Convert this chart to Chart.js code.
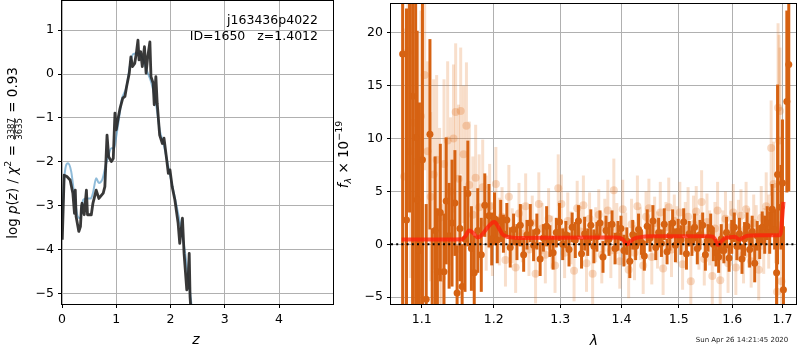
<!DOCTYPE html>
<html>
<head>
<meta charset="utf-8">
<script src="https://cdn.jsdelivr.net/npm/chart.js@4.4.1/dist/chart.umd.min.js"></script>
<style>
body { margin: 0; background: #fff; width: 800px; height: 350px; position: relative; overflow: hidden; }
canvas { position: absolute; top: 0; }
#pz { left: 0; }
#spec { left: 334px; }
</style>
</head>
<body>
<canvas id="pz" width="334" height="350"></canvas>
<canvas id="spec" width="466" height="350"></canvas>
<script>
// ---- left panel: log p(z) ----
const zFull = [0.005, 0.04, 0.09, 0.15, 0.20, 0.23, 0.245, 0.26, 0.31, 0.34,
    0.36, 0.37, 0.41, 0.45, 0.47, 0.54, 0.57, 0.63, 0.68, 0.76,
    0.79, 0.83, 0.86, 0.91, 0.945, 0.976, 1.0, 1.04, 1.07, 1.12,
    1.16, 1.19, 1.24, 1.27, 1.30, 1.34, 1.37, 1.40, 1.42, 1.45,
    1.48, 1.52, 1.55, 1.58, 1.62, 1.64, 1.68, 1.70, 1.73, 1.755,
    1.80, 1.85, 1.88, 1.93, 1.96, 1.99, 2.03, 2.08, 2.14, 2.17,
    2.22, 2.25, 2.30, 2.32, 2.345, 2.36, 2.40, 2.45];
const logpFull = [-3.77, -2.30, -2.33, -2.41, -2.71, -3.17, -2.64, -3.24, -3.58, -3.47,
    -3.0, -2.94, -3.2, -2.64, -3.2, -3.2, -2.94, -2.64, -2.83, -2.71,
    -2.56, -1.39, -1.88, -1.99, -1.92, -0.89, -1.27, -0.97, -0.78, -0.55,
    -0.51, -0.29, 0.02, 0.39, 0.17, 0.24, 0.47, 0.77, 0.32, 0.51,
    0.17, 0.62, 0.02, 0.39, 0.73, -0.06, -0.21, -0.7, -0.06, -0.67,
    -1.39, -1.58, -1.46, -1.95, -2.26, -2.18, -2.56, -2.86, -3.39, -3.85,
    -3.28, -4.08, -4.91, -4.83, -4.08, -5.06, -5.8, -6.5];

const zSmooth = [0.005, 0.05, 0.11, 0.17, 0.23, 0.29, 0.34, 0.39, 0.45, 0.53,
    0.57, 0.63, 0.68, 0.74, 0.80, 0.85, 0.91, 0.96, 1.0, 1.06,
    1.1, 1.19, 1.25, 1.31, 1.40, 1.47, 1.56, 1.65, 1.74, 1.80,
    1.87, 1.96, 2.05, 2.14, 2.2, 2.27, 2.33, 2.37, 2.42, 2.46];
const logpSmooth = [-3.3, -2.26, -2.03, -2.22, -2.79, -3.24, -3.28, -2.86, -2.83, -2.83,
    -2.71, -2.37, -2.48, -2.41, -2.11, -1.88, -1.69, -1.69, -1.42, -0.93,
    -0.59, -0.29, 0.17, 0.45, 0.47, 0.39, 0.09, -0.21, -0.74, -1.27,
    -1.58, -2.11, -2.64, -3.17, -3.55, -4.08, -4.68, -5.06, -5.7, -6.3];

const zTicks = [0, 1, 2, 3, 4];
const logpTicks = [-5, -4, -3, -2, -1, 0, 1];

// ---- right panel: spectrum ----
const darkLam = [1.075, 1.080, 1.084, 1.088, 1.092, 1.094, 1.097, 1.101, 1.106, 1.111,
    1.114, 1.118, 1.121, 1.125, 1.130, 1.133, 1.137, 1.141, 1.145, 1.148,
    1.152, 1.155, 1.159, 1.163, 1.168, 1.172, 1.177, 1.182, 1.187, 1.193,
    1.197, 1.201, 1.205, 1.210,
    1.214, 1.219, 1.224, 1.229, 1.234, 1.239, 1.244, 1.249, 1.254, 1.259,
    1.264, 1.269, 1.274, 1.279, 1.284, 1.289, 1.294, 1.299, 1.304, 1.309,
    1.314, 1.319, 1.324, 1.329, 1.334, 1.339, 1.344, 1.349, 1.354, 1.359,
    1.364, 1.369, 1.374, 1.379, 1.384, 1.389, 1.394, 1.399, 1.404, 1.409,
    1.414, 1.419, 1.424, 1.429, 1.434, 1.439, 1.444, 1.449, 1.454, 1.459,
    1.464, 1.469, 1.474, 1.479, 1.484, 1.489, 1.494, 1.499, 1.504, 1.509,
    1.514, 1.519, 1.524, 1.529, 1.534, 1.539, 1.544, 1.549, 1.554, 1.559,
    1.564, 1.569, 1.574, 1.579, 1.584, 1.589, 1.594, 1.599, 1.604, 1.609,
    1.614, 1.619, 1.624, 1.629, 1.634, 1.639, 1.644, 1.649, 1.654, 1.659,
    1.664, 1.669, 1.674, 1.679, 1.684,
    1.688, 1.690, 1.697, 1.700, 1.702, 1.709, 1.713];
const darkFlux = [18, 2.3, 25, 14.0, 10.1, 4.2, -0.6, 8, -5.2, 10.4,
    -6.5, 1.3, -2.6, 3.0, -2.6, 4.1, 0.8, 2.0, 3.9, -4.6,
    1.5, -4.0, 0.5, 4.8, -0.4, -2.7, 1.3, -1.0, 3.7, 2.7,
    0.5, 2.4, 0.4, 2.2,
    1.0, 2.3, -0.3, 1.4, 0.2, 1.8, -1.0, 0.9, 2.0, -0.1,
    1.2, -1.4, 0.6, 1.7, 0.3, -0.8, 1.1, 2.1, 0.0, 0.9,
    -0.5, 1.6, 0.4, 2.2, -0.9, 1.0, 0.2, 1.8, -0.2, 0.7,
    2.0, -1.2, 1.3, 0.5, 1.9, -0.4, 0.8, 1.5, -0.6, 0.3,
    -1.6, 0.9, -0.2, 1.4, 0.2, -1.1, 1.7, 0.6, 2.2, -0.3,
    1.1, 0.1, 1.9, -0.7, 0.8, 2.0, -0.1, 1.2, 0.4, 2.1,
    -0.9, 1.0, 0.3, 1.6, -0.4, 0.9, 1.8, -1.0, 0.6, 1.5,
    0.0, -0.8, -1.2, 0.5, -0.6, 1.1, -1.3, 0.7, 1.6, -0.2,
    1.0, -1.4, 0.5, 1.7, -0.5, 1.2, -1.8, 0.8, 0.2, 1.6,
    0.9, 2.0, 1.1, 3.3, 1.4,
    -2.7, 6.6, 3.5, 5.8, -4.3, 13.5, 17.0];
const darkErr = [24, 20, 22, 20, 18, 16, 14, 15, 9, 9,
    8, 7, 6, 6.5, 5.5, 6, 5, 6, 5, 4.5,
    5, 4, 5, 5, 4, 3.5, 4, 3.5, 3, 3,
    2.5, 2.5, 2.2, 2,
    1.8, 1.6, 1.9, 1.5, 1.7, 2.0, 1.6, 1.4, 1.8, 1.5,
    1.7, 1.6, 1.3, 1.9, 1.5, 1.6, 1.4, 1.8, 1.5, 1.3,
    1.6, 1.4, 1.7, 1.5, 1.4, 1.6, 1.3, 1.5, 1.6, 1.4,
    1.2, 1.5, 1.4, 1.6, 1.3, 1.5, 1.4, 1.2, 1.5, 1.3,
    1.6, 1.4, 1.3, 1.5, 1.2, 1.4, 1.6, 1.3, 1.5, 1.2,
    1.4, 1.3, 1.5, 1.2, 1.4, 1.3, 1.6, 1.2, 1.4, 1.3,
    1.5, 1.2, 1.4, 1.3, 1.5, 1.4, 1.2, 1.5, 1.3, 1.4,
    1.6, 1.3, 1.5, 1.4, 1.2, 1.5, 1.3, 1.6, 1.4, 1.3,
    1.5, 1.4, 1.6, 1.3, 1.7, 1.5, 1.8, 1.4, 1.6, 1.5,
    1.8, 1.6, 2.0, 2.4, 1.9,
    3.5, 8.5, 4, 6, 6, 8.6, 12];

const lightLam = [1.077, 1.082, 1.085, 1.089, 1.093, 1.096, 1.099, 1.104, 1.108, 1.112,
    1.116, 1.120, 1.124, 1.127, 1.130, 1.135, 1.139, 1.143, 1.146, 1.150,
    1.153, 1.157, 1.161, 1.165, 1.170, 1.174, 1.179, 1.184, 1.189, 1.194,
    1.198, 1.203, 1.208,
    1.212, 1.217, 1.222, 1.227, 1.232, 1.237, 1.242, 1.247, 1.252, 1.257,
    1.262, 1.267, 1.272, 1.277, 1.282, 1.287, 1.292, 1.297, 1.302, 1.307,
    1.312, 1.317, 1.322, 1.327, 1.332, 1.337, 1.342, 1.347, 1.352, 1.357,
    1.362, 1.367, 1.372, 1.377, 1.382, 1.387, 1.392, 1.397, 1.402, 1.407,
    1.412, 1.417, 1.422, 1.427, 1.432, 1.437, 1.442, 1.447, 1.452, 1.457,
    1.462, 1.467, 1.472, 1.477, 1.482, 1.487, 1.492, 1.497, 1.502, 1.507,
    1.512, 1.517, 1.522, 1.527, 1.532, 1.537, 1.542, 1.547, 1.552, 1.557,
    1.562, 1.567, 1.572, 1.577, 1.582, 1.587, 1.592, 1.597, 1.602, 1.607,
    1.612, 1.617, 1.622, 1.627, 1.632, 1.637, 1.642, 1.647, 1.652, 1.657,
    1.662, 1.667, 1.672, 1.677, 1.682, 1.686,
    1.689, 1.691, 1.693, 1.695, 1.698];
const lightFlux = [6.4, 18.2, 8.8, 11.5, 7.8, -4.5, 12.1, 16.0, 8.8, 4.5,
    6.6, 8.0, 2.5, -3.2, 7.6, 9.8, 5.0, 10.0, 12.5, 6.2,
    12.6, 8.5, 11.2, 5.6, 2.8, 6.3, 3.5, 5.4, 2.0, 3.6,
    0.5, 5.7, 1.2,
    2.6, -1.5, 4.5, 0.8, -2.2, 2.9, 1.0, 3.6, -0.5, 2.0,
    -2.8, 3.8, 1.5, -1.0, 2.4, 0.2, -2.0, 5.3, 3.8, -0.8,
    2.2, 0.6, -2.5, 3.4, 1.2, 3.7, -1.8, 2.4, -2.8, 0.9,
    2.8, -1.0, 1.8, 3.2, -0.6, 5.1, 1.5, -1.6, 3.3, 0.5,
    -2.4, 1.9, -0.8, 3.6, 1.0, -2.0, 2.6, 3.4, -1.2, 2.0,
    0.4, 3.0, -2.3, 1.6, 3.5, -0.5, 2.2, 0.9, 3.0, -1.9,
    1.4, 2.6, -3.5, 1.9, 3.1, 0.2, 4.0, -1.4, 2.1, 0.6,
    -3.0, 1.5, 3.2, -3.4, 0.8, 2.4, -1.8, 1.6, 3.0, -2.2,
    1.3, 2.7, -1.0, 3.3, 0.6, -1.6, 2.0, 1.1, -2.4, 2.5,
    0.3, 3.6, 1.2, 9.1, 5.7, 2.0,
    -4.5, 12.9, 9.8, 12.6, -3.5];
const lightErr = [14, 14, 12, 11, 10, 12, 10, 9, 8.5, 8,
    9, 8, 8.5, 7, 8, 7.5, 7, 7, 6.5, 7,
    6, 6.5, 6, 6, 5.5, 5, 5, 4.5, 4.5, 4,
    3.5, 3.5, 3.2,
    2.8, 2.5, 3.0, 2.6, 2.4, 2.9, 2.7, 3.1, 2.5, 2.6,
    2.8, 3.0, 2.4, 2.7, 2.9, 2.5, 2.6, 3.2, 2.8, 2.4,
    2.7, 2.5, 2.9, 2.6, 2.4, 2.8, 2.7, 2.5, 3.0, 2.6,
    2.4, 2.7, 2.5, 2.9, 2.6, 3.0, 2.4, 2.6, 2.8, 2.5,
    2.7, 2.4, 2.6, 2.9, 2.5, 2.7, 2.4, 2.8, 2.6, 2.5,
    2.7, 2.9, 2.5, 2.4, 2.8, 2.6, 2.5, 2.7, 2.9, 2.4,
    2.6, 2.8, 2.5, 2.7, 2.4, 2.6, 3.0, 2.5, 2.7, 2.6,
    2.8, 2.5, 2.7, 2.9, 2.4, 2.6, 2.8, 2.5, 2.7, 2.6,
    2.9, 2.5, 2.7, 2.6, 2.8, 2.5, 2.7, 2.6, 2.9, 3.0,
    3.1, 3.2, 3.5, 4.5, 4.0, 3.8,
    4, 8, 10, 6, 5];

const modelLam = [1.0737, 1.10, 1.13, 1.155, 1.160, 1.1647, 1.170, 1.177, 1.183, 1.190,
    1.197, 1.201, 1.206, 1.212, 1.218, 1.225, 1.24, 1.30, 1.36, 1.39,
    1.400, 1.405, 1.4096, 1.414, 1.420, 1.430, 1.45, 1.50, 1.555, 1.563,
    1.568, 1.573, 1.578, 1.585, 1.595, 1.605, 1.610, 1.614, 1.620, 1.630,
    1.66, 1.694, 1.697, 1.700, 1.702];
const modelFlux = [0.45, 0.45, 0.45, 0.47, 0.8, 1.3, 1.1, 0.65, 0.9, 1.5,
    2.0, 2.1, 1.7, 1.0, 0.75, 0.65, 0.6, 0.62, 0.64, 0.65,
    0.55, 0.25, 0.0, 0.2, 0.5, 0.65, 0.75, 0.75, 0.75, 0.72,
    0.4, -0.05, 0.2, 0.55, 0.65, 0.7, 0.55, 0.45, 0.6, 0.8,
    0.84, 0.86, 1.2, 2.8, 4.0];

const lamTicks = [1.1, 1.2, 1.3, 1.4, 1.5, 1.6, 1.7];
const fluxTicks = [-5, 0, 5, 10, 15, 20];

const FONT = '"DejaVu Sans"';
const ORANGE = 'rgb(214,98,18)';
const ORANGE_LIGHT = 'rgba(226,120,40,0.24)';

function pts(xs, ys) {
    return xs.map((x, i) => ({ x: x, y: ys[i] }));
}
function minus(v) {
    return (v < 0 ? '\u2212' : '') + Math.abs(v);
}

// vertical error bars drawn through the chart's scales
const errorBars = {
    id: 'errorBars',
    beforeDatasetDraw(chart, args) {
        const ds = chart.data.datasets[args.index];
        if (!ds.errors) return;
        const xs = chart.scales.x, ys = chart.scales.y, a = chart.chartArea, ctx = chart.ctx;
        ctx.save();
        ctx.beginPath();
        ctx.rect(a.left, a.top, a.right - a.left, a.bottom - a.top);
        ctx.clip();
        ctx.strokeStyle = ds.errorColor;
        ctx.lineWidth = ds.errorWidth;
        ds.data.forEach((p, i) => {
            const px = xs.getPixelForValue(p.x);
            ctx.beginPath();
            ctx.moveTo(px, ys.getPixelForValue(p.y - ds.errors[i]));
            ctx.lineTo(px, ys.getPixelForValue(p.y + ds.errors[i]));
            ctx.stroke();
        });
        ctx.restore();
    }
};

const frame = {
    id: 'frame',
    afterDraw(chart) {
        const a = chart.chartArea, ctx = chart.ctx;
        ctx.save();
        ctx.strokeStyle = '#000';
        ctx.lineWidth = 1;
        ctx.strokeRect(a.left - 0.5, a.top - 0.5, a.right - a.left + 1, a.bottom - a.top + 1);
        ctx.restore();
    }
};

// draws a row of text pieces, centred on 0, along the baseline
function drawPieces(ctx, pieces) {
    let total = 0;
    pieces.forEach(p => { ctx.font = p.font; p.w = p.w || ctx.measureText(p.t).width; total += p.w; });
    let u = -total / 2;
    pieces.forEach(p => {
        ctx.font = p.font;
        if (p.frac) {
            ctx.textAlign = 'center';
            ctx.fillText(p.num, u + p.w / 2, -3);
            ctx.fillText(p.den, u + p.w / 2, 5.5);
            ctx.fillRect(u + 1, -2.2, p.w - 2, 0.8);
            ctx.textAlign = 'left';
        } else {
            ctx.fillText(p.t, u, p.dy || 0);
        }
        u += p.w;
    });
}

const pzLabels = {
    id: 'pzLabels',
    afterDraw(chart) {
        const ctx = chart.ctx;
        ctx.save();
        ctx.fillStyle = '#000';
        ctx.textBaseline = 'alphabetic';
        ctx.font = '12.5px ' + FONT;
        ctx.textAlign = 'right';
        ctx.fillText('j163436p4022', 318, 24);
        ctx.fillText('ID=1650   z=1.4012', 318, 39.5);
        ctx.textAlign = 'center';
        ctx.font = 'italic 14px ' + FONT;
        ctx.fillText('z', 196, 344);
        ctx.translate(16.5, 153);
        ctx.rotate(-Math.PI / 2);
        ctx.textAlign = 'left';
        const n = '13.5px ' + FONT, it = 'italic 13.5px ' + FONT, sm = '8.5px ' + FONT;
        ctx.font = sm;
        const fw = ctx.measureText('3635').width + 2;
        drawPieces(ctx, [
            { font: n, t: 'log ' }, { font: it, t: 'p' }, { font: n, t: '(' }, { font: it, t: 'z' },
            { font: n, t: ') / ' }, { font: it, t: '\u03c7' }, { font: '9.5px ' + FONT, t: '2', dy: -5.5 },
            { font: n, t: ' = ' }, { font: sm, frac: true, num: '3387', den: '3635', w: fw, t: '' },
            { font: n, t: ' = 0.93' }
        ]);
        ctx.restore();
    }
};

const specLabels = {
    id: 'specLabels',
    afterDraw(chart) {
        const ctx = chart.ctx;
        ctx.save();
        ctx.fillStyle = '#000';
        ctx.textBaseline = 'alphabetic';
        ctx.textAlign = 'center';
        ctx.font = 'italic 14px ' + FONT;
        ctx.fillText('\u03bb', 260, 345);
        ctx.font = '7px ' + FONT;
        ctx.fillStyle = '#222';
        ctx.fillText('Sun Apr 26 14:21:45 2020', 408, 342);
        ctx.fillStyle = '#000';
        ctx.translate(14, 154.5);
        ctx.rotate(-Math.PI / 2);
        ctx.textAlign = 'left';
        const n = '13.5px ' + FONT;
        drawPieces(ctx, [
            { font: 'italic 13.5px ' + FONT, t: 'f' }, { font: 'italic 9.5px ' + FONT, t: '\u03bb', dy: 3 },
            { font: n, t: ' \u00d7 10' }, { font: '9.5px ' + FONT, t: '\u221219', dy: -6.5 }
        ]);
        ctx.restore();
    }
};

const tickFont = { family: 'DejaVu Sans', size: 12.5 };

function axis(ticks, lo, hi, opts) {
    return Object.assign({
        min: lo, max: hi,
        afterBuildTicks: s => { s.ticks = ticks.map(v => ({ value: v })); },
        grid: { color: '#b0b0b0', lineWidth: 1, tickColor: '#000', tickLength: 4 },
        border: { display: false }
    }, opts);
}
function fitX(s) {
    s.height = 46;
    s.paddingLeft = 0;
    s.paddingRight = 0;
}
function fitY(w) {
    return s => {
        s.width = w;
        s.paddingTop = 0;
        s.paddingBottom = 0;
    };
}

new Chart(document.getElementById('pz'), {
    type: 'scatter',
    data: {
        datasets: [
            { data: pts(zFull, logpFull), showLine: true, pointRadius: 0, borderColor: 'rgba(40,40,40,0.92)',
              borderWidth: 2.8, borderJoinStyle: 'round', clip: 0, order: 0 },
            { data: pts(zSmooth, logpSmooth), showLine: true, pointRadius: 0, borderColor: 'rgba(31,119,180,0.5)',
              borderWidth: 2, borderJoinStyle: 'round', cubicInterpolationMode: 'monotone', clip: 0, order: 1 }
        ]
    },
    options: {
        responsive: false, animation: false, devicePixelRatio: 1,
        layout: { padding: { top: 1, right: 1, left: 0, bottom: 0 } },
        plugins: { legend: { display: false }, tooltip: { enabled: false } },
        scales: {
            x: axis(zTicks, 0, 4.995, { afterFit: fitX,
                ticks: { color: '#000', padding: 4, maxRotation: 0, font: tickFont, callback: v => minus(v) } }),
            y: axis(logpTicks, -5.23, 1.66, { afterFit: fitY(62),
                ticks: { color: '#000', padding: 4, font: tickFont, callback: v => minus(v) } })
        }
    },
    plugins: [frame, pzLabels]
});

new Chart(document.getElementById('spec'), {
    type: 'scatter',
    data: {
        datasets: [
            { data: [{ x: 1.06, y: 0 }, { x: 1.729, y: 0 }], showLine: true, pointRadius: 0,
              borderColor: '#000', borderWidth: 2, borderDash: [2, 3.2], order: 0 },
            { data: pts(modelLam, modelFlux), showLine: true, pointRadius: 0, borderColor: 'rgba(255,30,10,0.75)',
              borderWidth: 4, cubicInterpolationMode: 'monotone', order: 1 },
            { data: pts(darkLam, darkFlux), errors: darkErr, errorColor: ORANGE, errorWidth: 3,
              pointRadius: 3.5, backgroundColor: ORANGE, borderWidth: 0, order: 2 },
            { data: pts(lightLam, lightFlux), errors: lightErr, errorColor: ORANGE_LIGHT, errorWidth: 3,
              pointRadius: 4, backgroundColor: 'rgba(226,120,40,0.28)', borderWidth: 0, order: 3 }
        ]
    },
    options: {
        responsive: false, animation: false, devicePixelRatio: 1,
        layout: { padding: { top: 1, right: 1, left: 0, bottom: 0 } },
        plugins: { legend: { display: false }, tooltip: { enabled: false } },
        scales: {
            x: axis(lamTicks, 1.06, 1.728, { type: 'logarithmic', afterFit: fitX,
                ticks: { color: '#000', padding: 4, maxRotation: 0, autoSkip: false, font: tickFont, callback: v => Number(v).toFixed(1) } }),
            y: axis(fluxTicks, -5.65, 22.72, { afterFit: fitY(57),
                ticks: { color: '#000', padding: 4, font: tickFont, callback: v => minus(v) } })
        }
    },
    plugins: [errorBars, frame, specLabels]
});
</script>
</body>
</html>
